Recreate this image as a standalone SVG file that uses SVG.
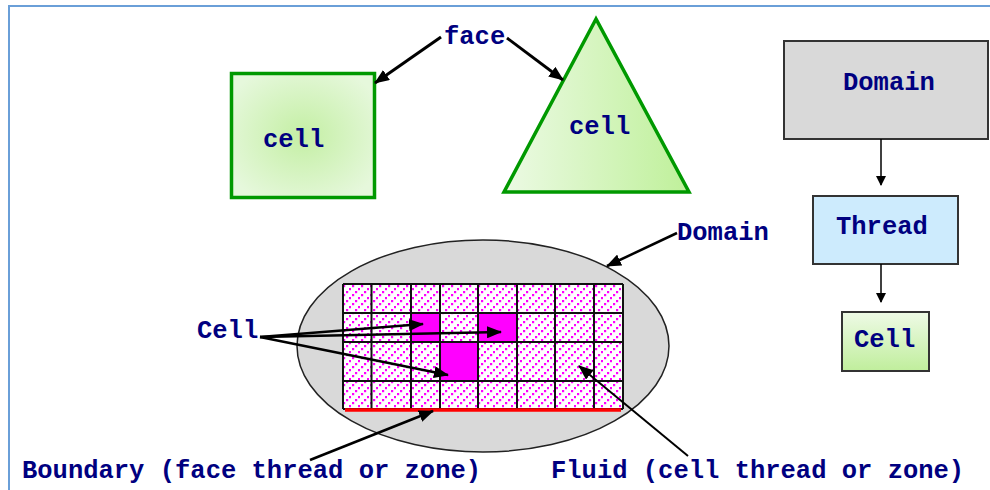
<svg xmlns="http://www.w3.org/2000/svg" width="990" height="490" viewBox="0 0 990 490">
<defs>
<style>
.lbl{font-family:"Liberation Mono","DejaVu Sans Mono",monospace;font-size:25.5px;fill:#000080;font-weight:bold}
.bot{font-family:"Liberation Mono","DejaVu Sans Mono",monospace;font-size:25.5px;fill:#000080;font-weight:bold}
.box{stroke:#333;stroke-width:2}
.conn{stroke:#000;fill:none}
.grid{stroke:#111;stroke-width:2;fill:none}
.dot{fill:#ff00ff}
</style>
<radialGradient id="gSq" cx="0.5" cy="0.5" r="0.6">
<stop offset="0" stop-color="#c4efa4"/>
<stop offset="1" stop-color="#e6f8dc"/>
</radialGradient>
<linearGradient id="gTri" x1="0" y1="0" x2="1" y2="0">
<stop offset="0" stop-color="#ecfae4"/>
<stop offset="1" stop-color="#bff09a"/>
</linearGradient>
<linearGradient id="gCell" x1="0" y1="0" x2="0" y2="1">
<stop offset="0" stop-color="#eefae6"/>
<stop offset="1" stop-color="#c0ee9c"/>
</linearGradient>
<pattern id="hatch" patternUnits="userSpaceOnUse" width="9" height="9">
<rect width="9" height="9" fill="#fff"/>
<rect class="dot" x="1" y="6" width="2.2" height="2.2"/>
<rect class="dot" x="4" y="3" width="2.2" height="2.2"/>
<rect class="dot" x="7" y="0" width="2" height="2.2"/>
</pattern>
<marker id="ah" markerUnits="userSpaceOnUse" markerWidth="15" markerHeight="12" refX="14" refY="6" orient="auto">
<path d="M0,0 L15,6 L0,12 Z" fill="#000"/>
</marker>
<marker id="ahs" markerUnits="userSpaceOnUse" markerWidth="10" markerHeight="10" refX="9" refY="5" orient="auto">
<path d="M0,0 L10,5 L0,10 Z" fill="#000"/>
</marker>
</defs>
<rect x="0" y="0" width="990" height="490" fill="#fff"/>
<path d="M9,490 L9,6 L990,6" fill="none" stroke="#6a9fd8" stroke-width="2"/>

<g id="square-cell">
<rect x="231.5" y="73.5" width="143" height="124" fill="url(#gSq)" stroke="#009900" stroke-width="3.5"/>
<text class="lbl" x="263" y="147">cell</text>
</g>
<g id="triangle-cell">
<polygon points="596,19 504,192 689,192" fill="url(#gTri)" stroke="#009900" stroke-width="3.5"/>
<text class="lbl" x="569" y="134">cell</text>
</g>
<g id="face-label"><text class="lbl" x="444" y="44">face</text></g>

<g id="domain-region">
<ellipse cx="483" cy="346" rx="186" ry="106" fill="#d9d9d9" stroke="#222" stroke-width="1.5"/>
<rect x="343" y="284" width="280" height="125" fill="url(#hatch)"/>
<rect x="411" y="313" width="29" height="29" fill="#ff00ff"/>
<rect x="478" y="313" width="39" height="29" fill="#ff00ff"/>
<rect x="440" y="342" width="38" height="39" fill="#ff00ff"/>
<path class="grid" d="M343,284H623M343,313H623M343,342H623M343,381H623M343,409H623M343,284V409M371.5,284V409M411,284V409M440,284V409M478,284V409M517,284V409M555,284V409M594,284V409M623,284V409"/>
<line x1="345" y1="410" x2="621" y2="410" stroke="#ff0000" stroke-width="3.5"/>
</g>
<g id="domain-label"><text class="lbl" x="677" y="240">Domain</text></g>
<g id="cell-label"><text class="lbl" x="197" y="338">Cell</text></g>
<g id="boundary-label"><text class="bot" x="22" y="478">Boundary (face thread or zone)</text></g>
<g id="fluid-label"><text class="bot" x="551" y="478">Fluid (cell thread or zone)</text></g>

<g id="tree-domain">
<rect class="box" x="784" y="41" width="204" height="98" fill="#d9d9d9"/>
<text class="lbl" x="843" y="90">Domain</text>
</g>
<g id="tree-thread">
<rect class="box" x="813" y="196" width="145" height="68" fill="#cdebfd"/>
<text class="lbl" x="836" y="234">Thread</text>
</g>
<g id="tree-cell">
<rect class="box" x="842" y="312" width="87" height="59" fill="url(#gCell)"/>
<text class="lbl" x="854" y="347">Cell</text>
</g>

<g id="connectors">
<line class="conn" x1="441" y1="37" x2="375" y2="83" stroke-width="3" marker-end="url(#ah)"/>
<line class="conn" x1="507" y1="38" x2="563" y2="80" stroke-width="3" marker-end="url(#ah)"/>
<line class="conn" x1="677" y1="233" x2="607" y2="266" stroke-width="2.5" marker-end="url(#ah)"/>
<line class="conn" x1="260" y1="337" x2="423" y2="324" stroke-width="2.5" marker-end="url(#ah)"/>
<line class="conn" x1="260" y1="337" x2="501" y2="332" stroke-width="2.5" marker-end="url(#ah)"/>
<line class="conn" x1="260" y1="337" x2="448" y2="375" stroke-width="2.5" marker-end="url(#ah)"/>
<line class="conn" x1="310" y1="460" x2="433" y2="411" stroke-width="2.5" marker-end="url(#ah)"/>
<line class="conn" x1="688" y1="456" x2="579" y2="366" stroke-width="2" marker-end="url(#ah)"/>
<line class="conn" x1="881" y1="139" x2="881" y2="185" stroke-width="1.5" marker-end="url(#ahs)"/>
<line class="conn" x1="881" y1="264" x2="881" y2="302" stroke-width="1.5" marker-end="url(#ahs)"/>
</g>
</svg>
